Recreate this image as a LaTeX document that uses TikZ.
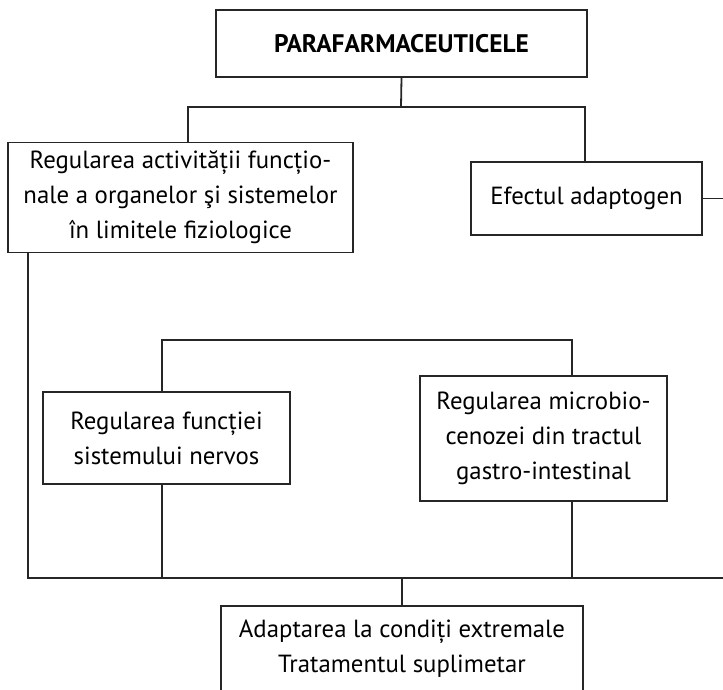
\documentclass[tikz,border=0pt]{standalone}
\usepackage{fontspec}
\setmainfont{PT Sans}
\usetikzlibrary{calc}
\colorlet{linecol}{black!85}
\tikzstyle{box}=[draw=linecol,line width=0.9pt,align=center,inner sep=0pt,font=\fontsize{12.4}{17.5}\selectfont]
\tikzstyle{wire}=[draw=linecol,line width=0.9pt]

\begin{document}
\begin{tikzpicture}[x=0.5pt,y=-0.5pt]
  % page frame, in pixels of the reference
  \useasboundingbox (0,0) rectangle (723,690);
  \clip (0,0) rectangle (723,690);

  % boxes
  \node[box,minimum width=185.5pt,minimum height=33.5pt,font=\fontsize{12.7}{14}\selectfont\bfseries]
    (top) at (401.5,43.5) {PARAFARMACEUTICELE};
  \node[box,minimum width=172.5pt,minimum height=55pt] (reg) at (180.5,197.5)
    {Regularea activității funcțio-\\nale a organelor şi sistemelor\\în limitele fiziologice};
  \node[box,minimum width=115.5pt,minimum height=36.5pt] (efect) at (586.5,198.5)
    {Efectul adaptogen};
  \node[box,minimum width=123.5pt,minimum height=46pt] (nerv) at (166.5,438)
    {Regularea funcției\\sistemului nervos};
  \node[box,minimum width=123.5pt,minimum height=62.5pt] (micro) at (543.5,438.5)
    {Regularea microbio-\\cenozei din tractul\\gastro-intestinal};
  \node[box,minimum width=181pt,minimum height=43pt] (adapt) at (402,649)
    {Adaptarea la condiți extremale\\Tratamentul suplimetar};

  % junction points
  \coordinate (t1)  at (401,107);
  \coordinate (t1l) at (188,107);
  \coordinate (t1r) at (585,107);
  \coordinate (re)  at (723,198.5);
  \coordinate (lb)  at (28,578);
  \coordinate (rb)  at (723,578);
  \coordinate (m1l) at (162,340);
  \coordinate (m1r) at (572,340);
  \coordinate (m2l) at (162,578);
  \coordinate (m2r) at (572,578);

  % connectors
  \draw[wire] (top.south) -- (t1);
  \draw[wire] (reg.north -| t1l) -- (t1l) -- (t1r) -- (efect.north -| t1r);
  \draw[wire] (efect.east) -- (re);
  \draw[wire] (reg.south -| lb) -- (lb) -- (rb);
  \draw[wire] (nerv.north -| m1l) -- (m1l) -- (m1r) -- (micro.north -| m1r);
  \draw[wire,line width=1.2pt] (nerv.south -| m2l) -- (m2l) -- (m2r) -- (micro.south -| m2r);
  \draw[wire] (adapt.north) -- (adapt.north |- lb);
\end{tikzpicture}
\end{document}
